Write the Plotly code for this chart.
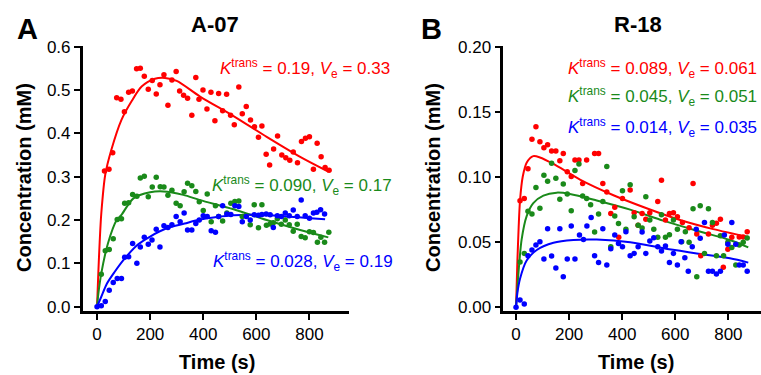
import plotly.graph_objects as go

# ---------------- Panel A (A-07) data ----------------
a_red_t = [28, 45, 59, 74, 90, 103, 119, 133, 149, 163, 178, 193, 208, 223, 237, 252, 267, 282, 298, 311,
           326, 341, 357, 372, 384, 399, 414, 429, 444, 458, 473, 488, 503, 517, 534, 547, 562, 578, 593, 608,
           621, 637, 650, 665, 680, 696, 711, 726, 739, 755, 770, 785, 800, 815, 829, 844, 859, 874]
a_red_v = [0.313, 0.317, 0.355, 0.482, 0.479, 0.450, 0.495, 0.498, 0.549, 0.550, 0.532, 0.502, 0.522, 0.491,
           0.512, 0.535, 0.465, 0.523, 0.543, 0.498, 0.488, 0.481, 0.442, 0.529, 0.479, 0.500, 0.456, 0.495,
           0.429, 0.492, 0.452, 0.490, 0.442, 0.420, 0.507, 0.445, 0.462, 0.431, 0.415, 0.391, 0.417, 0.352,
           0.327, 0.364, 0.394, 0.350, 0.344, 0.338, 0.357, 0.332, 0.381, 0.389, 0.392, 0.317, 0.377, 0.346,
           0.321, 0.315]

a_green_t = [16, 31, 46, 61, 76, 92, 104, 119, 134, 150, 163, 178, 193, 208, 223, 238, 252, 267, 282, 298,
             313, 328, 341, 357, 372, 385, 400, 415, 430, 446, 458, 473, 489, 504, 519, 534, 547, 562, 577,
             592, 608, 621, 638, 652, 664, 679, 694, 709, 724, 739, 754, 769, 784, 800, 815, 830, 843, 857, 873]
a_green_v = [0.075, 0.129, 0.132, 0.157, 0.201, 0.203, 0.239, 0.240, 0.259, 0.255, 0.297, 0.301, 0.254, 0.276,
             0.299, 0.277, 0.276, 0.257, 0.269, 0.239, 0.233, 0.265, 0.285, 0.279, 0.266, 0.242, 0.222, 0.260,
             0.196, 0.233, 0.208, 0.198, 0.216, 0.239, 0.243, 0.244, 0.208, 0.210, 0.189, 0.235, 0.182, 0.235,
             0.188, 0.191, 0.194, 0.203, 0.190, 0.200, 0.189, 0.174, 0.190, 0.162, 0.159, 0.173, 0.171, 0.149,
             0.160, 0.149, 0.172]

a_blue_t = [0, 16, 31, 46, 61, 76, 92, 104, 119, 134, 150, 163, 178, 193, 207, 223, 237, 252, 267, 282, 298,
            313, 328, 341, 357, 372, 385, 400, 415, 430, 446, 458, 473, 489, 504, 519, 534, 547, 562, 577, 592,
            608, 621, 637, 652, 664, 679, 694, 709, 724, 739, 754, 769, 784, 800, 815, 828, 842, 857]
a_blue_v = [0.0, 0.002, 0.012, 0.038, 0.056, 0.065, 0.065, 0.114, 0.115, 0.146, 0.100, 0.138, 0.160, 0.144,
            0.154, 0.179, 0.138, 0.187, 0.183, 0.189, 0.208, 0.196, 0.216, 0.177, 0.177, 0.192, 0.200, 0.210,
            0.208, 0.175, 0.172, 0.208, 0.233, 0.214, 0.213, 0.233, 0.231, 0.196, 0.208, 0.200, 0.212, 0.211,
            0.213, 0.214, 0.212, 0.183, 0.210, 0.208, 0.216, 0.210, 0.223, 0.208, 0.246, 0.210, 0.204, 0.216,
            0.218, 0.224, 0.214]

# fitted curves
a_red_fit_t = [0, 5, 10, 16, 31, 54, 92, 130, 168, 218, 256, 300, 388, 514, 639, 765, 871]
a_red_fit_v = [0.0, 0.08, 0.15, 0.215, 0.305, 0.362, 0.431, 0.474, 0.508, 0.526, 0.528, 0.521, 0.485, 0.440,
               0.392, 0.346, 0.312]
a_green_fit_t = [0, 5, 16, 41, 74, 92, 137, 200, 250, 325, 388, 514, 639, 765, 871]
a_green_fit_v = [0.0, 0.03, 0.077, 0.146, 0.200, 0.212, 0.250, 0.264, 0.266, 0.258, 0.246, 0.225, 0.200,
                 0.177, 0.160]
a_blue_fit_t = [0, 16, 36, 66, 100, 155, 200, 262, 330, 388, 451, 514, 589, 702, 859]
a_blue_fit_v = [0.0, 0.023, 0.052, 0.080, 0.108, 0.144, 0.162, 0.181, 0.192, 0.201, 0.207, 0.211, 0.212,
                0.209, 0.202]

# ---------------- Panel B (R-18) data ----------------
b_red_t = [15, 31, 45, 60, 75, 90, 105, 119, 134, 150, 165, 178, 193, 208, 222, 237, 251, 266, 296, 311, 327,
           342, 357, 372, 387, 401, 430, 445, 460, 475, 489, 504, 534, 548, 563, 578, 593, 608, 627, 652, 667,
           681, 696, 725, 740, 755, 770, 781, 798, 813, 841, 856, 871]
b_red_v = [0.0818, 0.0836, 0.1064, 0.129, 0.1386, 0.127, 0.1225, 0.1248, 0.120, 0.120, 0.1125, 0.118, 0.104,
           0.1003, 0.113, 0.113, 0.095, 0.113, 0.118, 0.118, 0.095, 0.0885, 0.072, 0.0767, 0.0537, 0.0836,
           0.090, 0.0726, 0.063, 0.072, 0.0675, 0.0726, 0.0813, 0.0975, 0.067, 0.072, 0.0726, 0.0695, 0.065,
           0.061, 0.095, 0.0562, 0.0396, 0.0562, 0.063, 0.0645, 0.0675, 0.0307, 0.0445, 0.0537, 0.054, 0.054,
           0.058]

b_green_t = [15, 31, 45, 60, 75, 90, 105, 119, 134, 150, 165, 178, 193, 208, 222, 237, 251, 266, 281, 296,
             311, 327, 342, 357, 372, 386, 401, 414, 430, 445, 460, 475, 489, 504, 519, 534, 548, 563, 578, 593,
             608, 624, 638, 652, 667, 681, 694, 710, 725, 740, 755, 770, 782, 798, 813, 828, 841, 856, 871]
b_green_v = [0.0348, 0.0414, 0.0737, 0.0716, 0.092, 0.076, 0.1013, 0.0967, 0.1105, 0.099, 0.0829, 0.0946,
             0.087, 0.0741, 0.105, 0.110, 0.0854, 0.0836, 0.0788, 0.0578, 0.0716, 0.0813, 0.108, 0.0465, 0.070,
             0.0644, 0.0895, 0.060, 0.094, 0.0695, 0.063, 0.0608, 0.0849, 0.067, 0.060, 0.0537, 0.0711, 0.0537,
             0.0557, 0.067, 0.060, 0.0503, 0.058, 0.050, 0.0757, 0.0235, 0.078, 0.0414, 0.0757, 0.065, 0.0396,
             0.055, 0.0396, 0.050, 0.046, 0.0325, 0.0478, 0.050, 0.0532]

b_blue_t = [0, 15, 31, 45, 60, 75, 90, 105, 119, 134, 150, 165, 178, 193, 208, 222, 239, 254, 267, 283, 296,
            311, 327, 342, 357, 372, 386, 401, 414, 430, 445, 460, 475, 489, 504, 519, 534, 548, 563, 578, 593,
            608, 622, 636, 649, 664, 679, 694, 710, 725, 740, 755, 770, 785, 798, 813, 828, 841, 856, 871]
b_blue_v = [0.0, 0.0056, 0.0025, 0.0396, 0.044, 0.0478, 0.0503, 0.037, 0.0603, 0.0394, 0.0302, 0.0603,
            0.0235, 0.037, 0.0624, 0.037, 0.0555, 0.052, 0.0624, 0.069, 0.0396, 0.0345, 0.0603, 0.0325, 0.045,
            0.0555, 0.049, 0.0465, 0.058, 0.0396, 0.0414, 0.0465, 0.0578, 0.0414, 0.0509, 0.0534, 0.0465,
            0.0432, 0.047, 0.0345, 0.0414, 0.0325, 0.0503, 0.038, 0.0276, 0.0465, 0.060, 0.053, 0.065, 0.0276,
            0.0276, 0.0255, 0.0276, 0.0555, 0.0484, 0.065, 0.0484, 0.0325, 0.0325, 0.0276]

b_red_fit_t = [0, 5, 10, 15, 25, 40, 65, 90, 141, 241, 367, 492, 618, 743, 875]
b_red_fit_v = [0.0, 0.035, 0.062, 0.082, 0.100, 0.111, 0.116, 0.115, 0.110, 0.098, 0.086, 0.076, 0.067,
               0.060, 0.054]
b_green_fit_t = [0, 9, 21, 40, 65, 103, 153, 203, 304, 430, 555, 681, 806, 875]
b_green_fit_v = [0.0, 0.026, 0.052, 0.070, 0.080, 0.0857, 0.088, 0.087, 0.082, 0.075, 0.0665, 0.0588,
                 0.0517, 0.046]
b_blue_fit_t = [0, 5, 15, 40, 78, 141, 216, 304, 430, 555, 681, 806, 875]
b_blue_fit_v = [0.0, 0.011, 0.022, 0.036, 0.044, 0.0496, 0.0517, 0.052, 0.050, 0.0453, 0.0414, 0.0376,
                0.0343]

panel_titles = ["A-07", "R-18"]
panel_letters = ["A", "B"]
a_labels = ["<i>K</i><sup>trans</sup> = 0.19, <i>V</i><sub>e</sub> = 0.33",
            "<i>K</i><sup>trans</sup> = 0.090, <i>V</i><sub>e</sub> = 0.17",
            "<i>K</i><sup>trans</sup> = 0.028, <i>V</i><sub>e</sub> = 0.19"]
b_labels = ["<i>K</i><sup>trans</sup> = 0.089, <i>V</i><sub>e</sub> = 0.061",
            "<i>K</i><sup>trans</sup> = 0.045, <i>V</i><sub>e</sub> = 0.051",
            "<i>K</i><sup>trans</sup> = 0.014, <i>V</i><sub>e</sub> = 0.035"]

# ---------------- styling ----------------
RED, GREEN, BLUE = "#ff0000", "#1a8a1a", "#0000ff"
FONT = "Liberation Sans, Arial, sans-serif"
W, H = 761, 375


def px(x):
    return x / W


def py(y):
    return 1 - y / H


fig = go.Figure()

series = [
    ("x", "y", a_red_t, a_red_v, a_red_fit_t, a_red_fit_v, RED),
    ("x", "y", a_green_t, a_green_v, a_green_fit_t, a_green_fit_v, GREEN),
    ("x", "y", a_blue_t, a_blue_v, a_blue_fit_t, a_blue_fit_v, BLUE),
    ("x2", "y2", b_red_t, b_red_v, b_red_fit_t, b_red_fit_v, RED),
    ("x2", "y2", b_green_t, b_green_v, b_green_fit_t, b_green_fit_v, GREEN),
    ("x2", "y2", b_blue_t, b_blue_v, b_blue_fit_t, b_blue_fit_v, BLUE),
]
for xa, ya, t, v, ft, fv, c in series:
    fig.add_trace(go.Scatter(x=ft, y=fv, mode="lines", line=dict(color=c, width=2, shape="spline", smoothing=0.8),
                             xaxis=xa, yaxis=ya, showlegend=False, hoverinfo="skip", cliponaxis=False))
for xa, ya, t, v, ft, fv, c in series:
    fig.add_trace(go.Scatter(x=t, y=v, mode="markers", marker=dict(color=c, size=5.5, line=dict(width=0)),
                             xaxis=xa, yaxis=ya, showlegend=False, cliponaxis=False))

ydom = [py(311), py(46)]
axis_common = dict(showline=True, linecolor="black", linewidth=2.5, ticks="outside", ticklen=6,
                   tickwidth=2, tickcolor="black", showgrid=False, zeroline=False, automargin=False,
                   tickfont=dict(family=FONT, size=17, color="black"))

fig.update_layout(
    width=W, height=H, margin=dict(l=0, r=0, t=0, b=0, pad=0, autoexpand=False),
    paper_bgcolor="white", plot_bgcolor="white",
    xaxis=dict(domain=[px(82.7), px(349)], range=[-54, 949], tickvals=[0, 200, 400, 600, 800],
               anchor="y", **axis_common),
    yaxis=dict(domain=ydom, range=[-0.0099, 0.6016], tickvals=[0, 0.1, 0.2, 0.3, 0.4, 0.5, 0.6],
               tickformat=".1f", anchor="x", **axis_common),
    xaxis2=dict(domain=[px(503.3), 1.0], range=[-48, 923], tickvals=[0, 200, 400, 600, 800],
                anchor="y2", **axis_common),
    yaxis2=dict(domain=ydom, range=[-0.0028, 0.2005], tickvals=[0, 0.05, 0.10, 0.15, 0.20],
                tickformat=".2f", anchor="x2", **axis_common),
    showlegend=False,
)

ann = []
# panel letters and titles
for letter, lx in zip(panel_letters, [27, 431]):
    ann.append(dict(text=f"<b>{letter}</b>", x=px(lx), y=py(29), xanchor="center", yanchor="middle",
                    font=dict(family=FONT, size=29, color="black")))
for title, tx in zip(panel_titles, [215, 637.7]):
    ann.append(dict(text=f"<b>{title}</b>", x=px(tx), y=py(25), xanchor="center", yanchor="middle",
                    font=dict(family=FONT, size=22, color="black")))
# axis titles
for cx in [24, 433]:
    ann.append(dict(text="<b>Concentration (mM)</b>", x=px(cx), y=py(178), textangle=-90,
                    xanchor="center", yanchor="middle", font=dict(family=FONT, size=20, color="black")))
for cx in [216.7, 635.8]:
    ann.append(dict(text="<b>Time (s)</b>", x=px(cx), y=py(362), xanchor="center", yanchor="middle",
                    font=dict(family=FONT, size=20, color="black")))
# parameter labels
for lab, (lx, ly), c in zip(a_labels, [(218, 68), (210, 185), (211, 261)], [RED, GREEN, BLUE]):
    ann.append(dict(text=lab, x=px(lx), y=py(ly), xanchor="left", yanchor="middle",
                    font=dict(family=FONT, size=17, color=c)))
for lab, (lx, ly), c in zip(b_labels, [(566, 68), (566, 97), (566, 127)], [RED, GREEN, BLUE]):
    ann.append(dict(text=lab, x=px(lx), y=py(ly), xanchor="left", yanchor="middle",
                    font=dict(family=FONT, size=17, color=c)))
for a in ann:
    a.update(xref="paper", yref="paper", showarrow=False)
fig.update_layout(annotations=ann)

fig.write_html("out.html", config={"displayModeBar": False},
               post_script="document.body.style.margin='0';document.body.style.overflow='hidden';")
